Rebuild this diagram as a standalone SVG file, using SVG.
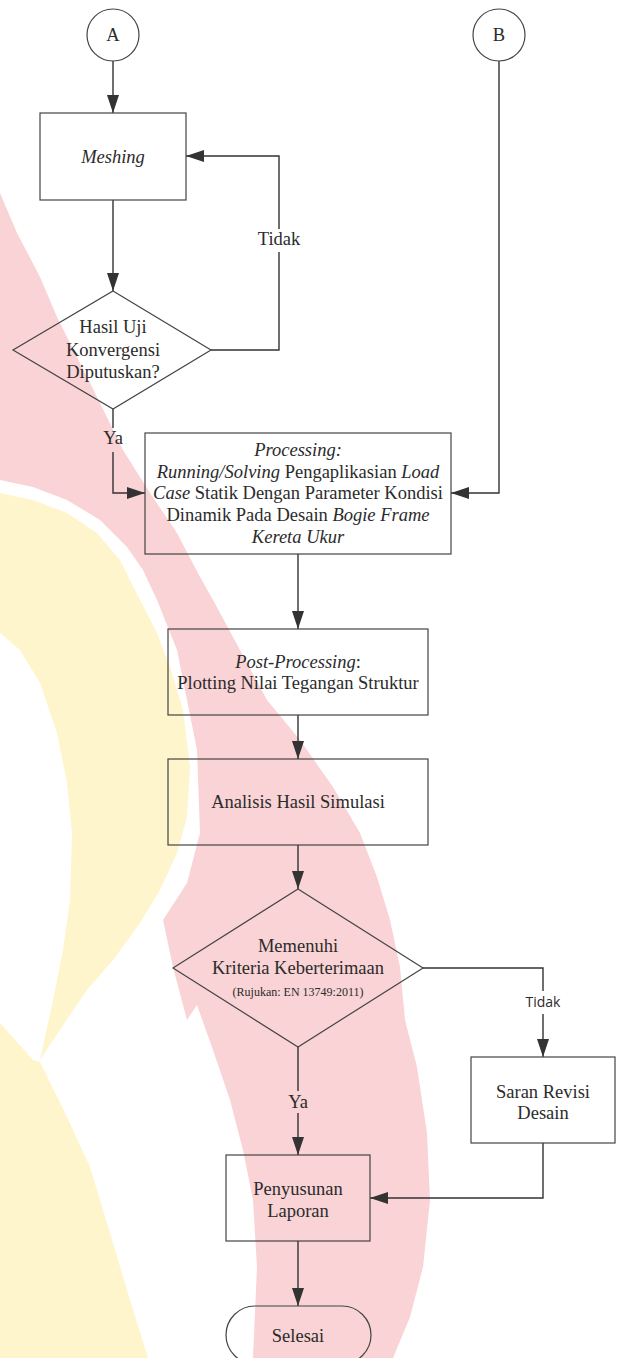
<svg xmlns="http://www.w3.org/2000/svg" width="620" height="1358" viewBox="0 0 620 1358">
<defs>
<style>
.t{font-family:"Liberation Serif","Times New Roman",serif;font-size:18.5px;fill:#2b2b2b;text-anchor:middle}
.s{font-size:12px}
.i{font-style:italic}
.sans{font-family:"Open Sans","Liberation Sans",sans-serif;font-size:14px;fill:#2b2b2b;text-anchor:middle}
.n{fill:none;stroke:#444;stroke-width:1.2}
.c{fill:none;stroke:#333;stroke-width:1.4}
.a{marker-end:url(#ah)}
</style>
<marker id="ah" viewBox="0 0 18 12" refX="18" refY="6" markerWidth="18" markerHeight="12" markerUnits="userSpaceOnUse" orient="auto">
<path d="M0,0 L18,6 L0,12 Z" fill="#333"/>
</marker>
</defs>
<rect width="620" height="1358" fill="#fff"/>
<g id="watermark">
<path fill="#f9d3d5" d="M0,193 L17,233 L40,277 L57,317 L77,357 L100,403 L123,450 L150,493 L177,533 L200,577 L213,600 L240,650 L267,700 L300,740 L333,787 L360,833 L377,877 L390,920 L400,967 L405,1020 L417,1067 L427,1133 L430,1200 L423,1267 L410,1317 L393,1358 L253,1358 L257,1267 L253,1200 L243,1150 L230,1100 L213,1050 L197,1005 L187,1020 L173,967 L163,920 L187,883 L200,833 L197,750 L187,700 L177,650 L157,600 L143,570 L127,547 L100,520 L67,500 L33,487 L0,480 Z"/>
<path fill="#fff5cc" d="M0,493 L33,500 L67,513 L97,533 L120,560 L140,600 L157,633 L170,667 L183,710 L190,767 L187,817 L177,853 L160,890 L140,923 L113,960 L87,990 L70,1015 L40,1060 L53,1000 L63,950 L70,900 L72,833 L67,783 L57,733 L40,683 L20,650 L0,633 Z"/>
<path fill="#fff5cc" d="M0,1023 L33,1060 L40,1062 L67,1117 L90,1167 L110,1233 L130,1300 L148,1358 L0,1358 Z"/>
</g>
<g id="connectors">
<path class="c a" d="M113,61 V113"/>
<path class="c a" d="M113,200 V291"/>
<path class="c a" d="M211,350 H279 V252 M279,229 V156 H186"/>
<path class="c a" d="M113,409 V428 M113,452 V493 H145"/>
<path class="c a" d="M499,61 V493 H451"/>
<path class="c a" d="M298,554 V629"/>
<path class="c a" d="M298,715 V759"/>
<path class="c a" d="M298,845 V889"/>
<path class="c a" d="M423,968 H543 V991 M543,1014 V1057"/>
<path class="c a" d="M298,1047 V1091 M298,1113 V1155"/>
<path class="c a" d="M543,1143 V1198 H370"/>
<path class="c a" d="M298,1241 V1306"/>
<text class="t" x="279" y="245">Tidak</text>
<text class="t" x="113" y="444">Ya</text>
<text class="sans" x="543" y="1007">Tidak</text>
<text class="t" x="298" y="1108">Ya</text>
</g>
<g id="nodeA">
<circle class="n" cx="113" cy="35" r="26"/>
<text class="t" x="113" y="41">A</text>
</g>
<g id="nodeB">
<circle class="n" cx="499" cy="35" r="26"/>
<text class="t" x="499" y="41">B</text>
</g>
<g id="meshing">
<rect class="n" x="40" y="113" width="146" height="87"/>
<text class="t i" x="113" y="163">Meshing</text>
</g>
<g id="konvergensi">
<path class="n" d="M113,291 L211,350 L113,409 L13,350 Z"/>
<text class="t" x="113" y="333">Hasil Uji</text>
<text class="t" x="113" y="356">Konvergensi</text>
<text class="t" x="113" y="378">Diputuskan?</text>
</g>
<g id="processing">
<rect class="n" x="145" y="433" width="306" height="121"/>
<text class="t" x="298" y="456"><tspan class="i">Processing:</tspan></text>
<text class="t" x="298" y="478"><tspan class="i">Running/Solving</tspan> Pengaplikasian <tspan class="i">Load</tspan></text>
<text class="t" x="298" y="499"><tspan class="i">Case</tspan> Statik Dengan Parameter Kondisi</text>
<text class="t" x="298" y="521">Dinamik Pada Desain <tspan class="i">Bogie Frame</tspan></text>
<text class="t" x="298" y="543"><tspan class="i">Kereta Ukur</tspan></text>
</g>
<g id="postprocessing">
<rect class="n" x="168" y="629" width="260" height="86"/>
<text class="t" x="298" y="668"><tspan class="i">Post-Processing</tspan>:</text>
<text class="t" x="298" y="689">Plotting Nilai Tegangan Struktur</text>
</g>
<g id="analisis">
<rect class="n" x="168" y="759" width="260" height="86"/>
<text class="t" x="298" y="808">Analisis Hasil Simulasi</text>
</g>
<g id="kriteria">
<path class="n" d="M298,889 L423,968 L298,1047 L173,968 Z"/>
<text class="t" x="298" y="952">Memenuhi</text>
<text class="t" x="298" y="974">Kriteria Keberterimaan</text>
<text class="t s" x="298" y="996">(Rujukan: EN 13749:2011)</text>
</g>
<g id="saran">
<rect class="n" x="471" y="1057" width="144" height="86"/>
<text class="t" x="543" y="1098">Saran Revisi</text>
<text class="t" x="543" y="1119">Desain</text>
</g>
<g id="penyusunan">
<rect class="n" x="226" y="1155" width="144" height="86"/>
<text class="t" x="298" y="1195">Penyusunan</text>
<text class="t" x="298" y="1217">Laporan</text>
</g>
<g id="selesai">
<rect class="n" x="226" y="1306" width="145" height="58" rx="29" ry="29"/>
<text class="t" x="298" y="1342">Selesai</text>
</g>
</svg>
